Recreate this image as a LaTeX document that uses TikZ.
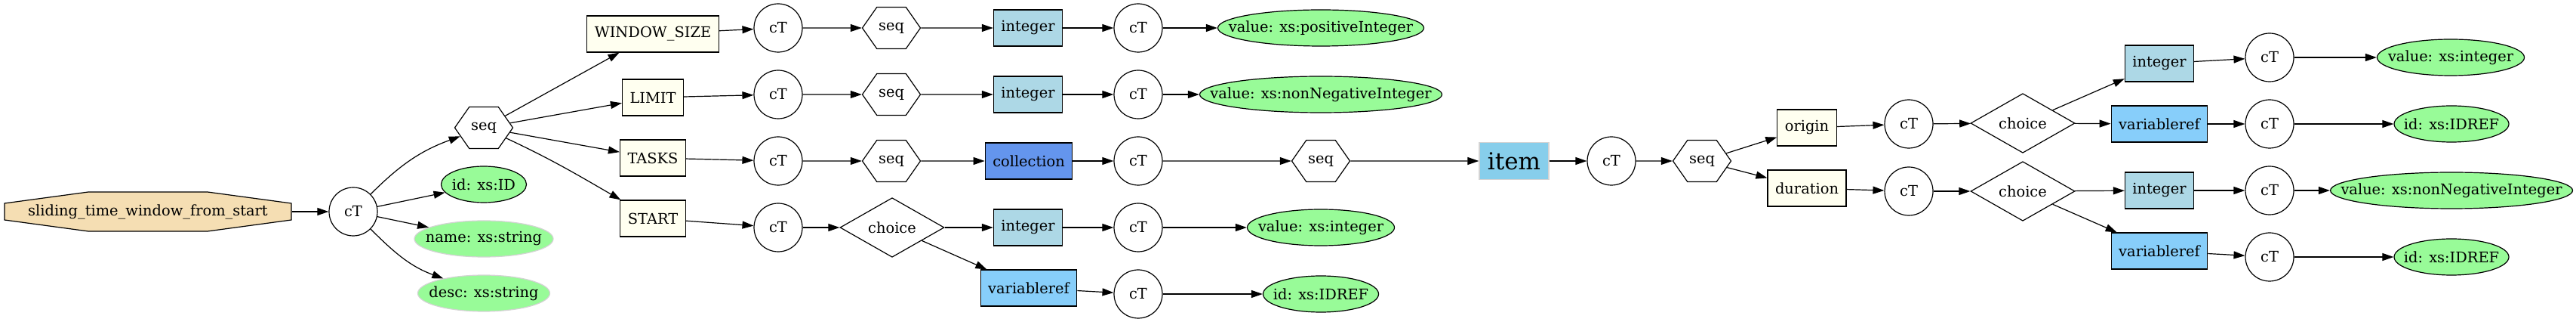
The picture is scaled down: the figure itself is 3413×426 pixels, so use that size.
\documentclass[tikz,border=0pt]{standalone}
\usepackage{fontspec}
\setmainfont{DejaVu Serif}
\usepackage{tikz}
\usetikzlibrary{arrows.meta}
\usetikzlibrary{shapes.geometric}
\usetikzlibrary{shapes.symbols}

\definecolor{wheat}{HTML}{F5DEB3}
\definecolor{ivory}{HTML}{FFFFF0}
\definecolor{lightblue}{HTML}{ADD8E6}
\definecolor{cornflower}{HTML}{6495ED}
\definecolor{lightskyblue}{HTML}{87CEFA}
\definecolor{skyblue}{HTML}{87CEEB}
\definecolor{palegreen}{HTML}{98FB98}
\definecolor{lightgrey}{HTML}{D3D3D3}

\tikzset{
  every node/.style={font=\fontsize{9.7}{11}\selectfont, line width=0.6pt},
  link/.style={line width=0.6pt, -{Triangle[length=7.5pt,width=5pt]}},
  ctype/.style={circle, draw, minimum size=32pt, inner sep=0pt},
  seqhex/.style={signal, signal to=east and west, signal pointer angle=110,
    draw, minimum width=38.5pt, minimum height=27.5pt, inner sep=0pt},
  choicebox/.style={diamond, draw, minimum width=69pt, minimum height=33.5pt, inner sep=0pt},
  elembox/.style={rectangle, draw, fill=ivory, minimum height=24pt, inner xsep=5pt},
  typebox/.style={rectangle, draw, minimum height=24pt, inner xsep=5pt},
  attr/.style={ellipse, draw, fill=palegreen, inner sep=-30pt, minimum height=24pt},
  optattr/.style={attr, draw=lightgrey},
}

\begin{document}
\begin{tikzpicture}[x=0.5pt,y=-0.5pt]

  \useasboundingbox (0,0) rectangle (3413,426);

  % root element, an octagon
  \draw[line width=0.6pt, fill=wheat]
    (6,269) -- (117,254) -- (275,254) -- (386,269) --
    (386,291) -- (275,306) -- (117,306) -- (6,291) -- cycle;
  \node[minimum width=190pt, minimum height=26pt, inner sep=0pt]
    (root) at (196,280) {sliding\_time\_window\_from\_start};
  \node[ctype] (ct0) at (468,280) {cT};
  \node[seqhex] (seq0) at (641,169) {seq};

  % attributes of the root
  \node[attr, minimum width=56.5pt] (aid) at (641,244) {id: xs:ID};
  \node[optattr, minimum width=92pt] (aname) at (641,316) {name: xs:string};
  \node[optattr, minimum width=87.5pt] (adesc) at (641,388) {desc: xs:string};

  % child elements
  \node[elembox] (ws) at (865,45) {WINDOW\_SIZE};
  \node[elembox] (limit) at (865,129) {LIMIT};
  \node[elembox] (tasks) at (865,209) {TASKS};
  \node[elembox] (start) at (865,289) {START};

  \node[ctype] (ct1) at (1031,37) {cT};
  \node[ctype] (ct2) at (1031,125) {cT};
  \node[ctype] (ct3) at (1031,213) {cT};
  \node[ctype] (ct4) at (1031,301) {cT};

  \node[seqhex] (seq1) at (1181,37) {seq};
  \node[seqhex] (seq2) at (1181,125) {seq};
  \node[seqhex] (seq3) at (1181,213) {seq};
  \node[choicebox] (ch1) at (1182,301) {choice};

  \node[typebox, fill=lightblue] (int1) at (1362,37) {integer};
  \node[typebox, fill=lightblue] (int2) at (1362,125) {integer};
  \node[typebox, fill=cornflower] (coll) at (1363,213) {collection};
  \node[typebox, fill=lightblue] (int3) at (1362,301) {integer};
  \node[typebox, fill=lightskyblue] (vref1) at (1363,381) {variableref};

  \node[ctype] (ct5) at (1508,37) {cT};
  \node[ctype] (ct6) at (1508,125) {cT};
  \node[ctype] (ct7) at (1508,213) {cT};
  \node[ctype] (ct8) at (1508,301) {cT};
  \node[ctype] (ct9) at (1508,389) {cT};

  \node[attr, minimum width=136.5pt] (vpos) at (1750,37) {value: xs:positiveInteger};
  \node[attr, minimum width=160.5pt] (vnneg) at (1750,125) {value: xs:nonNegativeInteger};
  \node[seqhex] (seq4) at (1750,213) {seq};
  \node[attr, minimum width=97.5pt] (vint) at (1750,301) {value: xs:integer};
  \node[attr, minimum width=76.5pt] (idref1) at (1750,389) {id: xs:IDREF};

  % collection item
  \node[rectangle, draw=lightgrey, fill=skyblue, minimum height=24.5pt, inner xsep=5.5pt,
    font=\fontsize{15.5}{18}\selectfont] (item) at (2006,213) {item};
  \node[ctype] (ct10) at (2135,213) {cT};
  \node[seqhex] (seq5) at (2255,213) {seq};

  \node[elembox] (origin) at (2394,169) {origin};
  \node[elembox] (duration) at (2394,249) {duration};
  \node[ctype] (ct11) at (2529,164) {cT};
  \node[ctype] (ct12) at (2529,253) {cT};
  \node[choicebox] (ch2) at (2680,163) {choice};
  \node[choicebox] (ch3) at (2680,253) {choice};

  \node[typebox, fill=lightblue] (int4) at (2861,84) {integer};
  \node[typebox, fill=lightskyblue] (vref2) at (2861,164) {variableref};
  \node[typebox, fill=lightblue] (int5) at (2861,252) {integer};
  \node[typebox, fill=lightskyblue] (vref3) at (2861,332) {variableref};

  \node[ctype] (ct13) at (3007,76) {cT};
  \node[ctype] (ct14) at (3007,164) {cT};
  \node[ctype] (ct15) at (3007,252) {cT};
  \node[ctype] (ct16) at (3007,340) {cT};

  \node[attr, minimum width=97.5pt] (vint2) at (3247,76) {value: xs:integer};
  \node[attr, minimum width=76pt] (idref2) at (3248,164) {id: xs:IDREF};
  \node[attr, minimum width=160.5pt] (vnneg2) at (3248,252) {value: xs:nonNegativeInteger};
  \node[attr, minimum width=76pt] (idref3) at (3248,340) {id: xs:IDREF};

  % edges of the root
  \draw[link] (root) -- (ct0);
  \draw[link] (ct0) to[out=45,in=200] (seq0);
  \draw[link] (ct0) -- (aid);
  \draw[link] (ct0) -- (aname);
  \draw[link] (ct0) to[out=-45,in=160] (adesc);

  \draw[link] (seq0) -- (ws);
  \draw[link] (seq0) -- (limit);
  \draw[link] (seq0) -- (tasks);
  \draw[link] (seq0) to[out=-25,in=150] (start);

  % the four children
  \draw[link] (ws) -- (ct1);
  \draw[link] (limit) -- (ct2);
  \draw[link] (tasks) -- (ct3);
  \draw[link] (start) -- (ct4);
  \draw[link] (ct1) -- (seq1);
  \draw[link] (ct2) -- (seq2);
  \draw[link] (ct3) -- (seq3);
  \draw[link] (ct4) -- (ch1);
  \draw[link] (seq1) -- (int1);
  \draw[link] (seq2) -- (int2);
  \draw[link] (seq3) -- (coll);
  \draw[link] (ch1) -- (int3);
  \draw[link] (ch1) -- (vref1);
  \draw[link] (int1) -- (ct5);
  \draw[link] (int2) -- (ct6);
  \draw[link] (coll) -- (ct7);
  \draw[link] (int3) -- (ct8);
  \draw[link] (vref1) -- (ct9);
  \draw[link] (ct5) -- (vpos);
  \draw[link] (ct6) -- (vnneg);
  \draw[link] (ct7) -- (seq4);
  \draw[link] (ct8) -- (vint);
  \draw[link] (ct9) -- (idref1);

  % the item
  \draw[link] (seq4) -- (item);
  \draw[link] (item) -- (ct10);
  \draw[link] (ct10) -- (seq5);
  \draw[link] (seq5) -- (origin);
  \draw[link] (seq5) -- (duration);
  \draw[link] (origin) -- (ct11);
  \draw[link] (duration) -- (ct12);
  \draw[link] (ct11) -- (ch2);
  \draw[link] (ct12) -- (ch3);
  \draw[link] (ch2) -- (int4);
  \draw[link] (ch2) -- (vref2);
  \draw[link] (ch3) -- (int5);
  \draw[link] (ch3) -- (vref3);
  \draw[link] (int4) -- (ct13);
  \draw[link] (vref2) -- (ct14);
  \draw[link] (int5) -- (ct15);
  \draw[link] (vref3) -- (ct16);
  \draw[link] (ct13) -- (vint2);
  \draw[link] (ct14) -- (idref2);
  \draw[link] (ct15) -- (vnneg2);
  \draw[link] (ct16) -- (idref3);

\end{tikzpicture}
\end{document}
